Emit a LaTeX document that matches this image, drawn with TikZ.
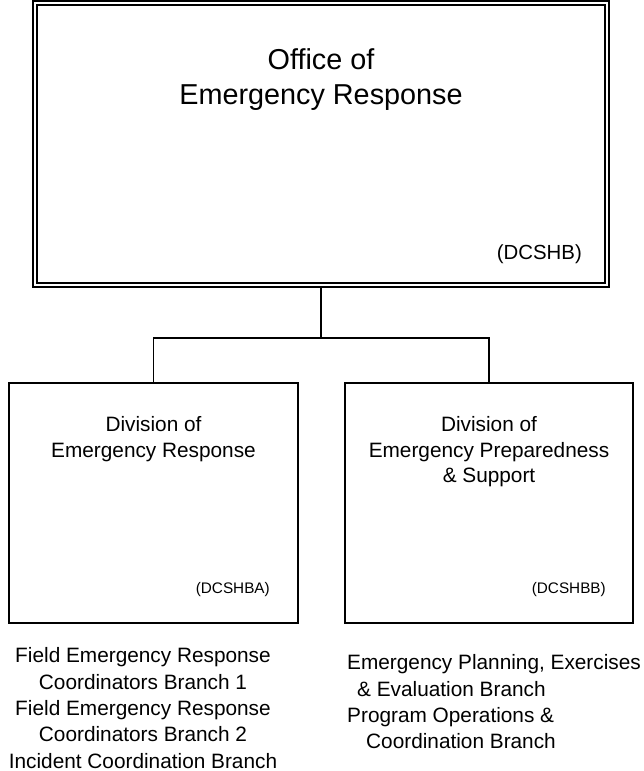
\documentclass[tikz,border=0pt]{standalone}
\usepackage{fontspec}
\setmainfont{Liberation Sans}
\usepackage{tikz}

\begin{document}
\begin{tikzpicture}[x=1pt,y=1pt,yscale=-1,xscale=1,
  officebox/.style={draw,double,line width=2pt,double distance=1.8pt,outer sep=2.9pt,inner sep=0pt},
  divbox/.style={draw,line width=1.6pt,outer sep=0pt,inner sep=0pt,minimum width=289pt,minimum height=240pt},
  link/.style={line width=1.6pt},
  bigtxt/.style={inner sep=0pt,align=center,font=\fontsize{28.8}{35}\selectfont},
  divtxt/.style={inner sep=0pt,align=center,font=\fontsize{20.8}{25.5}\selectfont},
  codetxt/.style={inner sep=0pt,anchor=east},
  listtxt/.style={inner sep=0pt,font=\fontsize{20.8}{26.3}\selectfont}]
\useasboundingbox (0,0) rectangle (643,771);

%Shapes: Rectangles
\node [officebox,minimum width=572pt,minimum height=282pt] (office) at (321,144) {};
\node [divbox] (dre) at (153.5,503) {};
\node [divbox,minimum width=288pt] (dep) at (489,503) {};

%Straight Lines
\coordinate (split) at (321,338);
\draw [link] (office.south) -- (split);
\draw [link] (dre.north) |- (split) -| (dep.north);

% Text Node
\node [bigtxt] (officetitle) at (321,80) {Office of\\Emergency Response};
% Text Node
\node [codetxt,font=\fontsize{20.4}{24}\selectfont] (officecode) at (582,254) {(DCSHB)};
% Text Node
\node [divtxt] (dretitle) at (153.5,439) {Division of\\Emergency Response};
% Text Node
\node [codetxt,font=\fontsize{15.3}{18}\selectfont] (drecode) at (270,590) {(DCSHBA)};
% Text Node
\node [divtxt] (deptitle) at (489,452) {Division of\\Emergency Preparedness\\\& Support};
% Text Node
\node [codetxt,font=\fontsize{15.3}{18}\selectfont] (depcode) at (606,590) {(DCSHBB)};
% Text Node
\node [listtxt,align=center] (drebranches) at (143,708) {Field Emergency Response\\Coordinators Branch 1\\Field Emergency Response\\Coordinators Branch 2\\Incident Coordination Branch};
% Text Node
\node [listtxt,align=left,anchor=west] (depbranches) at (347,702) {Emergency Planning, Exercises\\\hspace*{10pt}\& Evaluation Branch\\Program Operations \&\\\hspace*{19pt}Coordination Branch};

\end{tikzpicture}
\end{document}
